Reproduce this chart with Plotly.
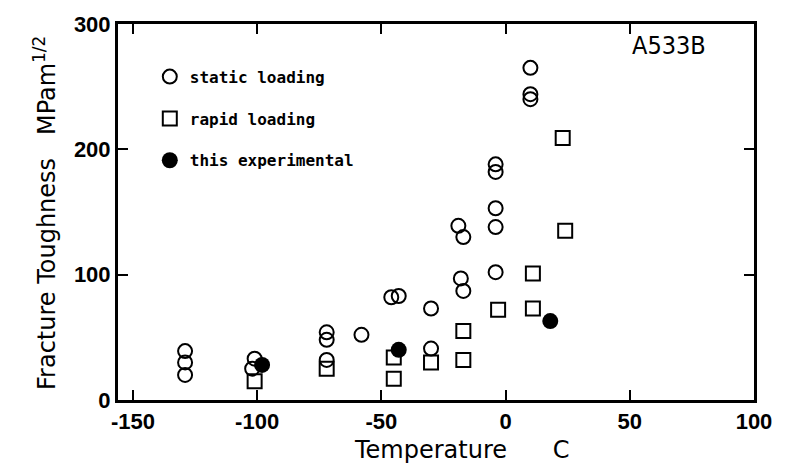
import plotly.graph_objects as go

# ---- data ----
static_T = [-129, -129, -129, -101, -102, -72, -72, -72, -58, -46, -43, -30, -30,
            -18, -17, -19, -17, -4, -4, -4, -4, -4, 10, 10, 10]
static_K = [39, 30, 20, 33, 25, 54, 48, 32, 52, 82, 83, 73, 41,
            97, 87, 139, 130, 102, 138, 153, 188, 182, 265, 244, 240]

rapid_T = [-101, -72, -45, -45, -30, -17, -17, -3, 11, 11, 23, 24]
rapid_K = [15, 25, 34, 17, 30, 55, 32, 72, 101, 73, 209, 135]

exp_T = [-98, -43, 18]
exp_K = [28, 40, 63]

x_ticks = [-150, -100, -50, 0, 50, 100]
x_ticktext = ["-150", "-100", "-50", "0", "50", "100"]
y_ticks = [0, 100, 200, 300]
y_ticktext = ["0", "100", "200", "300"]

series_names = ["static loading", "rapid loading", "this experimental"]

fig = go.Figure()
fig.add_trace(go.Scatter(
    x=static_T, y=static_K, mode="markers", name=series_names[0], legendgroup="a",
    marker=dict(symbol="circle-open", size=14, color="black", line=dict(width=2, color="black"))))
fig.add_trace(go.Scatter(
    x=rapid_T, y=rapid_K, mode="markers", name=series_names[1], legendgroup="b",
    marker=dict(symbol="square-open", size=14, color="black", line=dict(width=2, color="black"))))
fig.add_trace(go.Scatter(
    x=exp_T, y=exp_K, mode="markers", name=series_names[2], legendgroup="c",
    marker=dict(symbol="circle", size=16, color="black")))

tickfont = dict(family="Liberation Sans, Arial, sans-serif", size=22, color="black", weight="bold")
axis_common = dict(showline=True, linecolor="black", linewidth=3, mirror="ticks",
                   ticks="inside", ticklen=10, tickwidth=2, tickcolor="black",
                   showgrid=False, zeroline=False, tickfont=tickfont)

fig.update_xaxes(range=[-156, 100], tickvals=x_ticks, ticktext=x_ticktext, **axis_common)
fig.update_yaxes(range=[0, 300], tickvals=y_ticks, ticktext=y_ticktext, **axis_common)

fig.update_layout(
    width=787, height=468,
    margin=dict(l=118, r=33, t=18, b=68),
    paper_bgcolor="white", plot_bgcolor="white",
    showlegend=True,
    legend=dict(x=0.05, y=0.905, xanchor="left", yanchor="top",
                bgcolor="rgba(0,0,0,0)", tracegroupgap=18,
                font=dict(family="DejaVu Sans Mono, monospace", size=16, color="black", weight="bold")),
    annotations=[
        dict(text="A533B", xref="paper", yref="paper", x=(669 - 118) / 636, y=(400 - 40) / 382,
             xanchor="center", yanchor="middle", showarrow=False,
             font=dict(family="DejaVu Sans Condensed, DejaVu Sans", size=25, color="black")),
        dict(text="Temperature\u00a0\u00a0\u00a0\u00a0\u00a0\u00a0C", xref="paper", yref="paper",
             x=(462 - 118) / 636, y=-(451 - 400) / 382, xanchor="center", yanchor="middle",
             showarrow=False, font=dict(family="DejaVu Sans", size=24, color="black")),
        dict(text="Fracture Toughness\u00a0\u00a0\u00a0MPam<sup>1/2</sup>", xref="paper", yref="paper",
             x=-(118 - 45) / 636, y=(400 - 210) / 382, xanchor="center", yanchor="middle",
             textangle=-90, showarrow=False, font=dict(family="DejaVu Sans", size=24, color="black")),
    ],
)

fig.write_html("out.html")
